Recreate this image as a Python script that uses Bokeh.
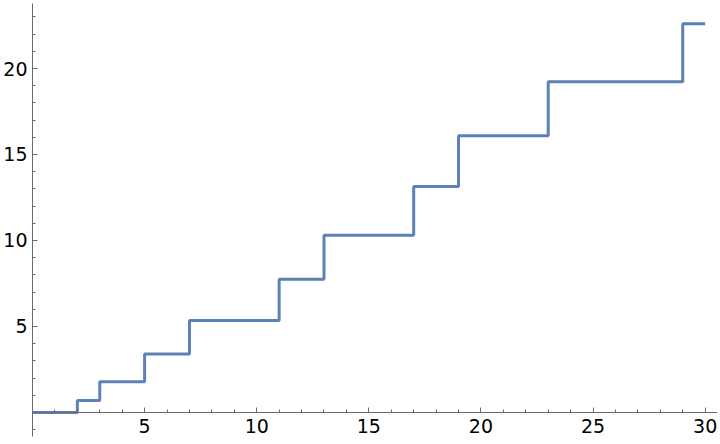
from bokeh.plotting import figure
from bokeh.models import FixedTicker, Range1d
from bokeh.embed import file_html
from bokeh.resources import INLINE

# step positions (primes) and cumulative values
xs = [0, 2, 3, 5, 7, 11, 13, 17, 19, 23, 29, 30]
ys = [0, 0.69, 1.79, 3.40, 5.35, 7.75, 10.31, 13.14, 16.09, 19.23, 22.60, 22.60]

x_major = [5, 10, 15, 20, 25, 30]
x_minor = [1, 2, 3, 4, 6, 7, 8, 9, 11, 12, 13, 14, 16, 17, 18, 19, 21, 22, 23, 24, 26, 27, 28, 29]
y_major = [5, 10, 15, 20]
y_minor = [-1, 1, 2, 3, 4, 6, 7, 8, 9, 11, 12, 13, 14, 16, 17, 18, 19, 21, 22, 23]

p = figure(output_backend="svg", toolbar_location=None,
           frame_width=685, frame_height=433,
           min_border_left=32, min_border_right=3, min_border_top=3, min_border_bottom=8,
           x_range=Range1d(0, 30.55), y_range=Range1d(-1.40, 23.78))
p.outline_line_color = None
p.grid.visible = False
p.background_fill_color = "white"
p.border_fill_color = "white"

p.step(xs, ys, mode="after", line_color="#5E81B5", line_width=3)

axis_color = "#6b6b6b"
for ax in (p.xaxis[0], p.yaxis[0]):
    ax.axis_line_color = axis_color
    ax.major_tick_line_color = axis_color
    ax.minor_tick_line_color = axis_color
    ax.major_tick_in = 5
    ax.major_tick_out = 0
    ax.minor_tick_in = 3
    ax.minor_tick_out = 0
    ax.major_label_text_font = "DejaVu Sans"
    ax.major_label_text_font_size = "19px"
    ax.major_label_text_color = "black"

p.xaxis[0].fixed_location = 0
p.xaxis[0].major_label_standoff = 7
p.yaxis[0].major_label_standoff = 5
p.xaxis[0].ticker = FixedTicker(ticks=x_major, minor_ticks=x_minor)
p.yaxis[0].ticker = FixedTicker(ticks=y_major, minor_ticks=y_minor)

open("out.html", "w").write(file_html(p, INLINE))
